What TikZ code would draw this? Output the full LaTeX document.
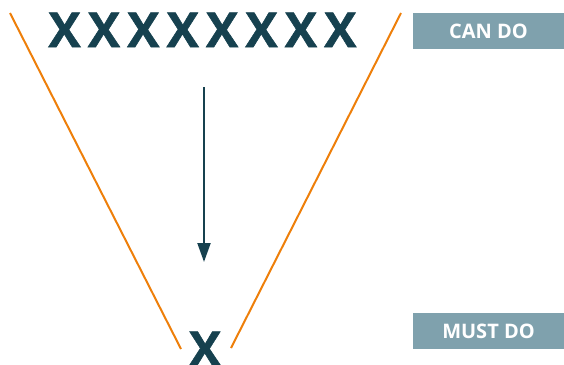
\documentclass[tikz,border=0pt]{standalone}
\usepackage{fontspec}
\setmainfont{Open Sans}
\newfontfamily\heavyx[FakeBold=1.2]{Open Sans Bold}
\usetikzlibrary{arrows.meta}
\definecolor{xteal}{HTML}{16414F}
\definecolor{funnel}{HTML}{EE7F0A}
\definecolor{boxfill}{HTML}{7FA1AD}
\begin{document}
\begin{tikzpicture}[x=1pt,y=-1pt,
  bigx/.style={anchor=base,inner sep=0pt,text=xteal,font=\fontsize{48}{48}\heavyx},
  funnelline/.style={draw=funnel,line width=2pt},
  label/.style={fill=boxfill,text=white,minimum width=151pt,minimum height=36pt,inner sep=0pt,font=\fontsize{20}{20}\selectfont\bfseries},
  flow/.style={draw=xteal,line width=2pt,-{Triangle[width=13pt,length=19pt]}}]
\useasboundingbox (0,0) rectangle (564,364);
\clip (0,0) rectangle (564,364);
\foreach \i in {0,...,7} {
  \node[bigx] (x\i) at ({64.5+39.4*\i},47) {X};
}
\node[bigx] (xb) at (205,366) {X};
\coordinate (l1) at (10,13);
\coordinate (l2) at (181,349);
\coordinate (r1) at (401,13);
\coordinate (r2) at (231,348);
\draw[funnelline] (l1) -- (l2);
\draw[funnelline] (r1) -- (r2);
\coordinate (a1) at (204,87);
\coordinate (a2) at (204,262);
\draw[flow] (a1) -- (a2);
\node[label] (can) at (488.5,31) {CAN DO};
\node[label] (must) at (488.5,331) {MUST DO};
\end{tikzpicture}
\end{document}
